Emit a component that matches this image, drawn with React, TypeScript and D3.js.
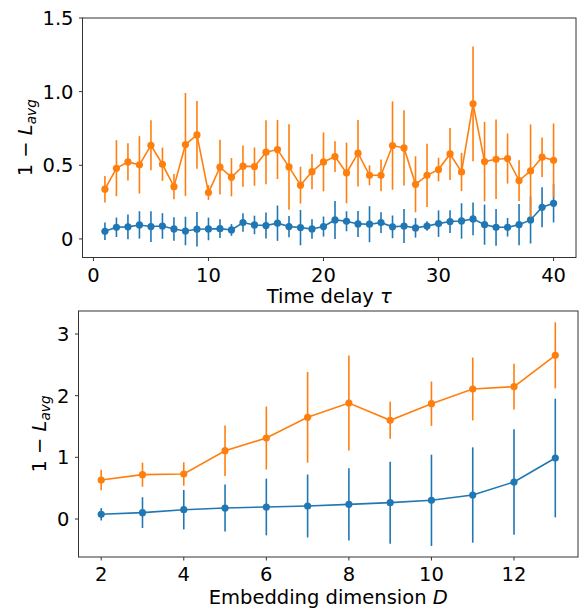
import React from 'react'
import * as d3 from 'd3'

// top panel: time delay tau
const tau = d3.range(1, 41)
const tauOrange = [0.338, 0.48, 0.523, 0.503, 0.636, 0.507, 0.355, 0.641, 0.706, 0.315,
  0.487, 0.419, 0.494, 0.491, 0.589, 0.607, 0.489, 0.365, 0.457, 0.523,
  0.559, 0.448, 0.582, 0.432, 0.432, 0.634, 0.618, 0.371, 0.432, 0.471,
  0.577, 0.455, 0.917, 0.525, 0.541, 0.546, 0.396, 0.462, 0.555, 0.534]
const tauOrangeErr = [0.09, 0.19, 0.127, 0.195, 0.17, 0.113, 0.086, 0.35, 0.23, 0.05,
  0.186, 0.13, 0.14, 0.13, 0.217, 0.2, 0.29, 0.125, 0.12, 0.2,
  0.105, 0.206, 0.226, 0.068, 0.108, 0.3, 0.255, 0.19, 0.215, 0.08,
  0.177, 0.13, 0.39, 0.27, 0.27, 0.17, 0.138, 0.315, 0.134, 0.25]
const tauBlue = [0.052, 0.079, 0.082, 0.095, 0.084, 0.088, 0.068, 0.054, 0.066, 0.068,
  0.07, 0.061, 0.111, 0.095, 0.091, 0.107, 0.084, 0.077, 0.068, 0.084,
  0.129, 0.12, 0.102, 0.1, 0.111, 0.082, 0.088, 0.075, 0.088, 0.104,
  0.118, 0.122, 0.136, 0.097, 0.079, 0.079, 0.097, 0.129, 0.215, 0.242]
const tauBlueErr = [0.06, 0.066, 0.084, 0.093, 0.104, 0.087, 0.08, 0.097, 0.117, 0.077,
  0.063, 0.04, 0.063, 0.063, 0.088, 0.12, 0.072, 0.12, 0.066, 0.068,
  0.129, 0.068, 0.088, 0.122, 0.07, 0.077, 0.115, 0.066, 0.032, 0.09,
  0.077, 0.12, 0.111, 0.136, 0.125, 0.063, 0.14, 0.16, 0.136, 0.13]
const tauTicks = [0, 10, 20, 30, 40]
const tauYTicks = [0, 0.5, 1.0, 1.5]
const tauYLabels = ['0', '0.5', '1.0', '1.5']

// bottom panel: embedding dimension D
const dims = d3.range(2, 14)
const dimOrange = [0.632, 0.719, 0.73, 1.108, 1.313, 1.649, 1.881, 1.6, 1.87, 2.108, 2.146, 2.654]
const dimOrangeErr = [0.167, 0.195, 0.19, 0.41, 0.51, 0.735, 0.77, 0.3, 0.36, 0.51, 0.37, 0.535]
const dimBlue = [0.076, 0.103, 0.151, 0.178, 0.195, 0.211, 0.238, 0.265, 0.303, 0.389, 0.6, 0.989]
const dimBlueErr = [0.1, 0.25, 0.32, 0.38, 0.46, 0.51, 0.585, 0.665, 0.74, 0.773, 0.854, 0.962]
const dimTicks = [2, 4, 6, 8, 10, 12]
const dimYTicks = [0, 1, 2, 3]
const dimYLabels = ['0', '1', '2', '3']

const W = 581, H = 608
const blue = '#1f77b4', orange = '#ff7f0e'
const font = 'DejaVu Sans, sans-serif'
const fs = 19.5

function Series({ xs, ys, errs, color, x, y }) {
  const line = d3.line().x((d, i) => x(xs[i])).y(d => y(d))
  return (
    <g>
      {ys.map((v, i) => (
        <line key={'e' + i} x1={x(xs[i])} x2={x(xs[i])} y1={y(v - errs[i])} y2={y(v + errs[i])}
          stroke={color} strokeWidth={1.6} />
      ))}
      <path d={line(ys)} fill="none" stroke={color} strokeWidth={1.6} />
      {ys.map((v, i) => (
        <circle key={'c' + i} cx={x(xs[i])} cy={y(v)} r={3.6} fill={color} />
      ))}
    </g>
  )
}

function Panel({ box, xDomain, yDomain, xTicks, yTicks, yLabels, xLabel, xLabelDy, yLabelX, series }) {
  const x = d3.scaleLinear().domain(xDomain).range([box.left, box.right])
  const y = d3.scaleLinear().domain(yDomain).range([box.bottom, box.top])
  const cx = (box.left + box.right) / 2
  const cy = (box.top + box.bottom) / 2
  return (
    <g fontFamily={font} fill="#000">
      {series.map((s, i) => <Series key={i} {...s} x={x} y={y} />)}
      <rect x={box.left} y={box.top} width={box.right - box.left} height={box.bottom - box.top}
        fill="none" stroke="#333" strokeWidth={1} />
      {xTicks.map(t => (
        <g key={'x' + t}>
          <line x1={x(t)} x2={x(t)} y1={box.bottom} y2={box.bottom + 3.5} stroke="#333" />
          <text x={x(t)} y={box.bottom + 24} fontSize={fs} textAnchor="middle">{t}</text>
        </g>
      ))}
      {yTicks.map((t, i) => (
        <g key={'y' + t}>
          <line x1={box.left - 3.5} x2={box.left} y1={y(t)} y2={y(t)} stroke="#333" />
          <text x={box.left - 9} y={y(t)} dy="0.36em" fontSize={fs} textAnchor="end">{yLabels[i]}</text>
        </g>
      ))}
      <text x={cx} y={box.bottom + xLabelDy} fontSize={fs} textAnchor="middle">{xLabel}</text>
      <text transform={`translate(${yLabelX},${cy}) rotate(-90)`} fontSize={fs} textAnchor="middle">
        1 − <tspan fontStyle="italic">L</tspan>
        <tspan fontStyle="italic" fontSize={fs * 0.7} dy="0.3em">avg</tspan>
      </text>
    </g>
  )
}

export default function App() {
  return (
    <svg width={W} height={H} style={{ position: 'absolute', left: 0, top: 0, background: '#fff' }}>
      <Panel
        box={{ left: 82.5, right: 576, top: 18, bottom: 257.5 }}
        xDomain={[-0.95, 41.95]}
        yDomain={[-0.126, 1.5]}
        xTicks={tauTicks}
        yTicks={tauYTicks}
        yLabels={tauYLabels}
        xLabel={<>Time delay <tspan fontStyle="italic">τ</tspan></>}
        xLabelDy={45}
        yLabelX={32}
        series={[
          { xs: tau, ys: tauBlue, errs: tauBlueErr, color: blue },
          { xs: tau, ys: tauOrange, errs: tauOrangeErr, color: orange }
        ]}
      />
      <Panel
        box={{ left: 78.5, right: 578, top: 311, bottom: 557 }}
        xDomain={[1.45, 13.55]}
        yDomain={[-0.616, 3.373]}
        xTicks={dimTicks}
        yTicks={dimYTicks}
        yLabels={dimYLabels}
        xLabel={<>Embedding dimension <tspan fontStyle="italic">D</tspan></>}
        xLabelDy={47}
        yLabelX={46}
        series={[
          { xs: dims, ys: dimBlue, errs: dimBlueErr, color: blue },
          { xs: dims, ys: dimOrange, errs: dimOrangeErr, color: orange }
        ]}
      />
    </svg>
  )
}
